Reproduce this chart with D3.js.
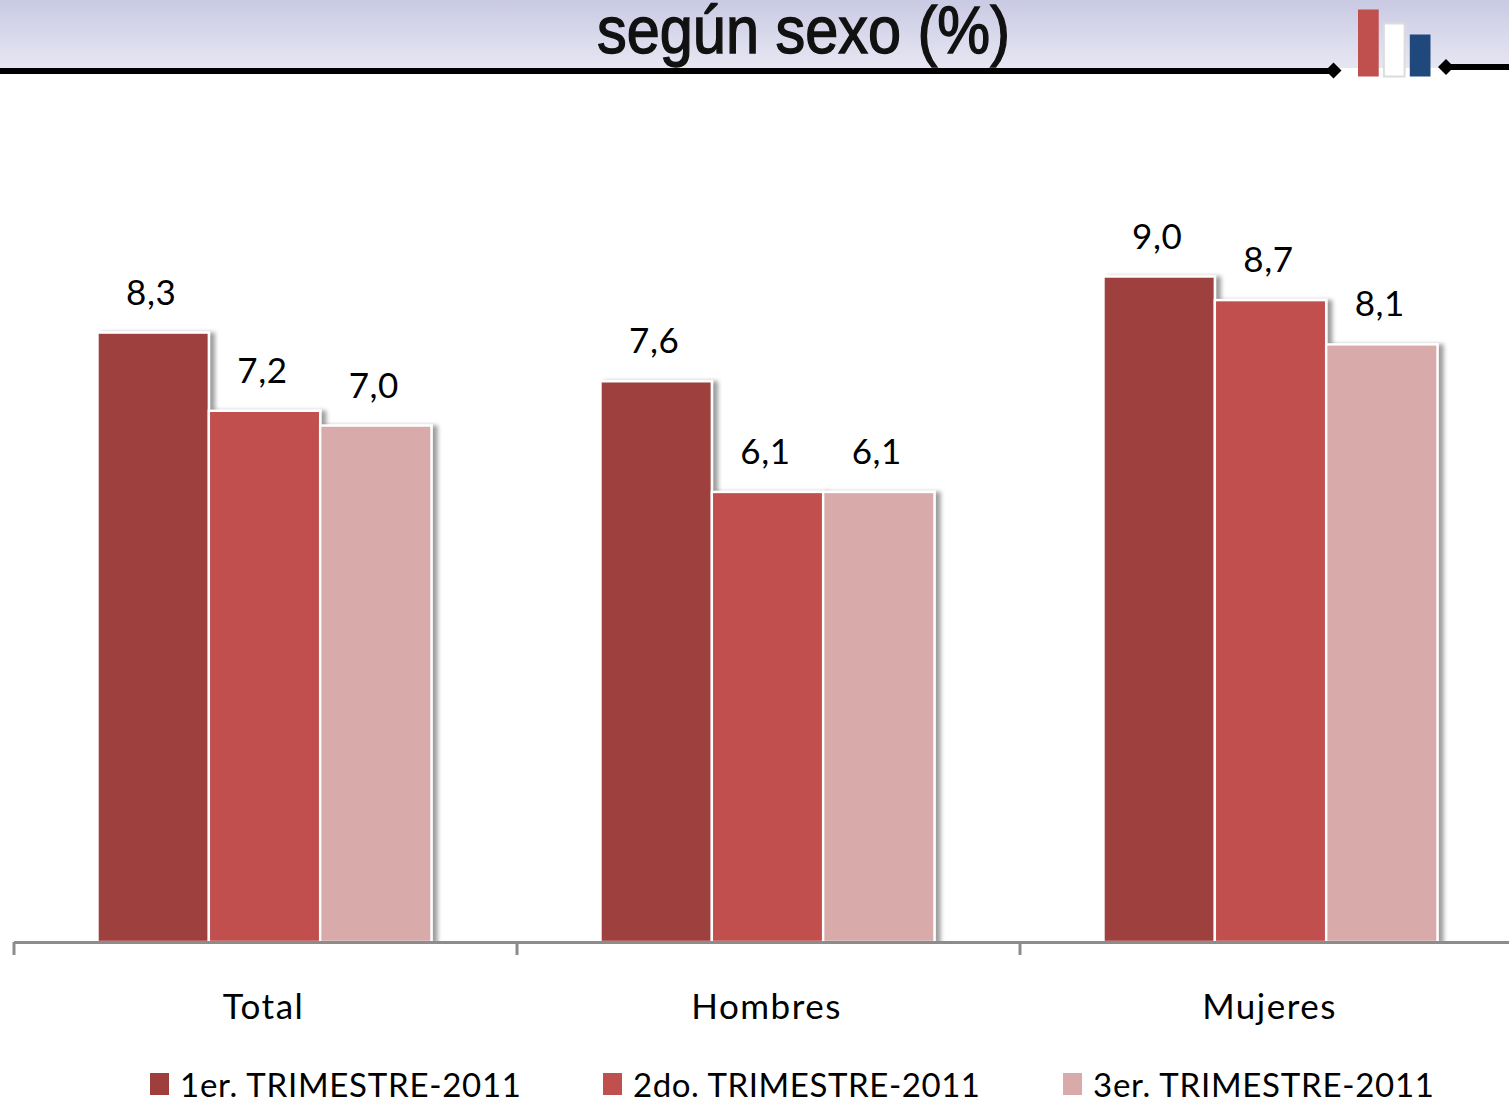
<!DOCTYPE html>
<html><head><meta charset="utf-8">
<script src="https://cdn.jsdelivr.net/npm/d3@7/dist/d3.min.js"></script>
<style>html,body{margin:0;padding:0;background:#fff;overflow:hidden}svg{display:block}</style>
</head><body><div id="c"></div>
<script>
const categories = ["Total","Hombres","Mujeres"];
const seriesNames = ["1er. TRIMESTRE-2011","2do. TRIMESTRE-2011","3er. TRIMESTRE-2011"];
const series1 = [8.26,7.6,9.02];
const series2 = [7.2,6.1,8.7];
const series3 = [7.0,6.1,8.1];
const colors = ["#9e3f3d","#c0504d","#d9aaaa"];
const titleText = "según sexo (%)";
const iconValues = [67,53,42];
const iconColors = ["#c0504d","#ffffff","#1f497d"];
const allSeries = [series1,series2,series3];

const W=1509,H=1101;
const font="Lato, Carlito, sans-serif";
const svg=d3.select("#c").append("svg").attr("width",W).attr("height",H).style("font-family",font);
const defs=svg.append("defs");
const g=defs.append("linearGradient").attr("id","hdr").attr("x1",0).attr("x2",0).attr("y1",0).attr("y2",1);
g.append("stop").attr("offset",0).attr("stop-color","#c9cae3");
g.append("stop").attr("offset",1).attr("stop-color","#e7e7f3");
const f=defs.append("filter").attr("id","sh").attr("x","-10%").attr("y","-5%").attr("width","125%").attr("height","110%");
f.append("feDropShadow").attr("dx",5).attr("dy",1).attr("stdDeviation",2).attr("flood-color","#000").attr("flood-opacity",0.38);

// header
svg.append("rect").attr("x",0).attr("y",0).attr("width",W).attr("height",69).attr("fill","url(#hdr)");
svg.append("text").attr("x",597).attr("y",53)
  .attr("font-family","'Liberation Sans',sans-serif").attr("textLength",413).attr("lengthAdjust","spacingAndGlyphs")
  .attr("font-size",66).attr("stroke","#111").attr("stroke-width",1.4).attr("fill","#111").text(titleText);
svg.append("rect").attr("x",0).attr("y",68).attr("width",1333).attr("height",6).attr("fill","#000");
svg.append("rect").attr("x",1333).attr("y",68).attr("width",112).attr("height",12).attr("fill","#fff");
svg.append("rect").attr("x",1445).attr("y",64).attr("width",64).attr("height",6).attr("fill","#000");
svg.append("path").attr("transform","translate(1333.5,70.5)").attr("d","M-8,0L0,-8L8,0L0,8Z").attr("fill","#000");
svg.append("path").attr("transform","translate(1446,67)").attr("d","M-8,0L0,-8L8,0L0,8Z").attr("fill","#000");
const iconX=d3.scaleBand().domain(d3.range(3)).range([1358,1430.5]).paddingInner(0.2);
const iconH=d3.scaleLinear().domain([0,67]).range([0,67]);
svg.selectAll(".icon").data(iconValues).join("rect").attr("class","icon")
  .attr("x",(d,i)=>iconX(i)).attr("y",d=>76.5-iconH(d)).attr("width",iconX.bandwidth()).attr("height",d=>iconH(d))
  .attr("fill",(d,i)=>iconColors[i]).attr("stroke",(d,i)=>i===1?"#dcdcdc":"none").attr("stroke-width",2);

// chart
const baseY=942;
const x=d3.scaleBand().domain(categories).range([14,1523]);
const xs=d3.scaleBand().domain(d3.range(3)).range([0,334]);
const y=d3.scaleLinear().domain([0,9]).range([baseY,baseY-664]);
const fmt=d=>d3.format(".1f")(d).replace(".",",");
const groupOffset=(x.bandwidth()-334)/2-1;

const gs=svg.selectAll(".grp").data(categories).join("g").attr("class","grp")
  .attr("transform",c=>`translate(${x(c)+groupOffset},0)`);
gs.each(function(c,ci){
  const sel=d3.select(this);
  allSeries.forEach((s,si)=>{
    sel.append("rect").attr("x",xs(si)).attr("y",y(s[ci])).attr("width",xs.bandwidth()).attr("height",baseY-y(s[ci]))
      .attr("fill",colors[si]).attr("stroke","#fff").attr("stroke-width",2.4).attr("filter","url(#sh)");
  });
  allSeries.forEach((s,si)=>{
    sel.append("text").attr("x",xs(si)+xs.bandwidth()/2-2).attr("y",y(s[ci])-28).attr("text-anchor","middle")
      .attr("font-size",35).attr("letter-spacing",0.6).attr("fill","#000").text(fmt(s[ci]));
  });
});

// axis
svg.append("rect").attr("x",0).attr("y",baseY+1).attr("width",W).attr("height",40).attr("fill","#fff");
const axis=d3.axisBottom(x).tickSize(0).tickPadding(52);
const ag=svg.append("g").attr("transform",`translate(0,${baseY})`).call(axis);
ag.select(".domain").attr("stroke","#8c8c8c").attr("stroke-width",3).attr("d","M14,0.5H1509");
ag.selectAll("text").attr("font-family",font).attr("font-size",35).attr("letter-spacing",1.5).attr("dx",-2).attr("fill","#000");
ag.selectAll(".sep").data([14,517,1020]).join("line").attr("class","sep").attr("x1",d=>d).attr("x2",d=>d)
  .attr("y1",0).attr("y2",13).attr("stroke","#8c8c8c").attr("stroke-width",3);

// legend
const legendX=[150,603,1063];
const legendW=[341,347,341];
const lg=svg.selectAll(".lg").data(seriesNames).join("g").attr("class","lg").attr("transform",(d,i)=>`translate(${legendX[i]},1073)`);
lg.append("rect").attr("width",19).attr("height",22).attr("fill",(d,i)=>colors[i]);
lg.append("text").attr("x",30).attr("y",24).attr("font-size",33).attr("textLength",(d,i)=>legendW[i]).attr("lengthAdjust","spacing").attr("fill","#000").text(d=>d);
</script></body></html>
